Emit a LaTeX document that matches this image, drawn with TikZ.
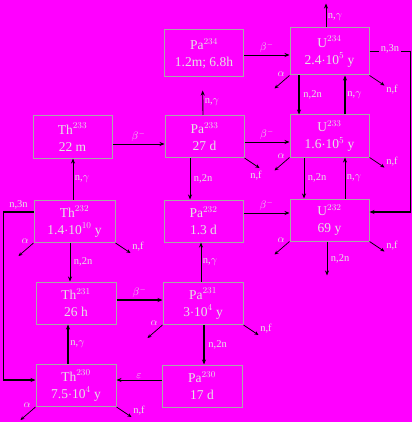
\documentclass[tikz,border=0pt]{standalone}
\usepackage{fontspec}
\setmainfont{Liberation Serif}
\usepackage{xcolor}
\definecolor{Bg}{HTML}{FF00FF}
\definecolor{TextGray}{HTML}{E4E4E4}
\definecolor{BoxGray}{HTML}{A8A8A8}
\usepackage{tikz}
\usetikzlibrary{arrows.meta, positioning}
\tikzset{
  nuc/.style={
    rectangle, draw=BoxGray, line width=1pt,
    minimum width=79pt, minimum height=42pt,
    inner sep=0pt, align=center, text=TextGray,
    font=\fontsize{13.5}{17}\selectfont
  },
  arr/.style={-{Stealth[length=5pt, width=4pt]}, line width=0.9pt, color=black},
  tArr/.style={arr, line width=1.8pt},
  sArr/.style={-{Stealth[length=4pt, width=3.5pt]}, line width=0.7pt, color=black},
  lab/.style={text=TextGray, font=\fontsize{10.5}{11}\selectfont, inner sep=1.5pt},
}

\begin{document}
\begin{tikzpicture}[x=1pt, y=-1pt]

% background and size
\fill[Bg] (0,0) rectangle (412,422);
\useasboundingbox (0,0) rectangle (412,422);

% Nuclides, row by row
\node[nuc, minimum height=47pt] at (204,53.5) (pa234) {Pa$^{234}$\\1.2m; 6.8h};
\node[nuc, minimum height=47pt] at (329.5,51.5) (u234) {U$^{234}$\\2.4$\cdot$10$^{5}$ y};

\node[nuc] at (72.5,137) (th233) {Th$^{233}$\\22 m};
\node[nuc] at (204.5,136.5) (pa233) {Pa$^{233}$\\27 d};
\node[nuc] at (329.5,136) (u233) {U$^{233}$\\1.6$\cdot$10$^{5}$ y};

\node[nuc, minimum width=81pt] at (74.5,221.5) (th232) {Th$^{232}$\\1.4$\cdot$10$^{10}$ y};
\node[nuc] at (203.5,221) (pa232) {Pa$^{232}$\\1.3 d};
\node[nuc] at (329.5,220) (u232) {U$^{232}$\\69 y};

\node[nuc, minimum width=80pt] at (76,303) (th231) {Th$^{231}$\\26 h};
\node[nuc, minimum width=80pt] at (203,303.5) (pa231) {Pa$^{231}$\\3$\cdot$10$^{4}$ y};

\node[nuc, minimum width=80pt] at (76,385.5) (th230) {Th$^{230}$\\7.5$\cdot$10$^{4}$ y};
\node[nuc, minimum width=80pt] at (202,386) (pa230) {Pa$^{230}$\\17 d};

% beta decays and electron capture
\draw[arr] ([yshift=-1.5pt]pa234.east) -- ([yshift=-1.5pt]pa234.east -| u234.west)
  node[lab, midway, above] {$\beta^{-}$};
\draw[arr] ([yshift=-7pt]th233.east) -- ([yshift=-7pt]th233.east -| pa233.west)
  node[lab, midway, above] {$\beta^{-}$};
\draw[arr] ([yshift=-5.5pt]pa233.east) -- ([yshift=-5.5pt]pa233.east -| u233.west)
  node[lab, midway, above] {$\beta^{-}$};
\draw[arr] ([yshift=8pt]pa232.east) -- ([yshift=8pt]pa232.east -| u232.west)
  node[lab, midway, above] {$\beta^{-}$};
\draw[tArr] ([yshift=3pt]th231.east) -- ([yshift=3pt]th231.east -| pa231.west)
  node[lab, midway, above] {$\beta^{-}$};
\draw[arr] ([yshift=6pt]pa230.west) -- ([yshift=6pt]pa230.west -| th230.east)
  node[lab, midway, above] {$\varepsilon$};

% (n,gamma) captures
\draw[arr] ([xshift=-3.5pt]u234.north) -- ++(0,-24)
  node[lab, pos=0.45, right] {n,$\gamma$};
\draw[arr, shorten >=13pt] ([xshift=-1.5pt]pa233.north) -- ([xshift=-1.5pt]pa234.south)
  node[lab, pos=0.35, right] {n,$\gamma$};
\draw[arr] ([xshift=-1.5pt]th232.north) coordinate (s) -- (s |- th233.south)
  node[lab, midway, right] {n,$\gamma$};
\draw[tArr] ([xshift=15.5pt]u233.north) -- ([xshift=15.5pt]u234.south)
  node[lab, midway, right] {n,$\gamma$};
\draw[arr] ([xshift=15.5pt]u232.north) -- ([xshift=15.5pt]u233.south)
  node[lab, midway, right] {n,$\gamma$};
\draw[arr] ([xshift=-2pt]pa231.north) coordinate (s) -- (s |- pa232.south)
  node[lab, midway, right] {n,$\gamma$};
\draw[tArr] ([xshift=-8pt]th230.north) coordinate (s) -- (s |- th231.south)
  node[lab, midway, right] {n,$\gamma$};

% (n,2n) reactions
\draw[tArr] ([xshift=-30.5pt]u234.south) -- ([xshift=-30.5pt]u233.north)
  node[lab, midway, right=2pt] {n,2n};
\draw[arr] ([xshift=-25.5pt]u233.south) -- ([xshift=-25.5pt]u232.north)
  node[lab, midway, right=2pt] {n,2n};
\draw[arr] ([xshift=-14.5pt]pa233.south) coordinate (s) -- (s |- pa232.north)
  node[lab, midway, right=2pt] {n,2n};
\draw[arr] ([xshift=-4.5pt]th232.south) coordinate (s) -- (s |- th231.north)
  node[lab, midway, right=2pt] {n,2n};
\draw[tArr] ([xshift=1pt]pa231.south) coordinate (s) -- (s |- pa230.north)
  node[lab, midway, right=2pt] {n,2n};
\draw[arr] ([xshift=-2.5pt]u232.south) -- ++(0,34)
  node[lab, midway, right=2pt] {n,2n};

% (n,3n) reactions
\draw[tArr] (u234.east) -- node[lab, fill=Bg, yshift=3pt] {n,3n} ++(41,0)
  |- ([yshift=8pt]u232.east);
\draw[tArr] ([yshift=9.5pt]th232.west) -- node[lab, above] {n,3n} ++(-30,0)
  |- ([yshift=5.5pt]th230.west);

% alpha decay and fission
\foreach \n in {u234, u233, u232, th232, pa231, th230} {
  \draw[sArr] (\n.south west) -- ++(-15,13)
    node[lab, pos=0.2, above left] {$\alpha$};
}
\foreach \n in {u233, u232, th232, pa231, th230} {
  \draw[sArr] (\n.south east) -- ++(15,10)
    node[lab, pos=1, above right] {n,f};
}
\draw[sArr] (u234.south east) -- ++(15,10)
  node[lab, pos=1, below right=-2pt and 0pt] {n,f};
\draw[sArr] (pa233.south east) -- ++(15,10)
  node[lab, pos=1, below left=1pt and -4pt] {n,f};

\end{tikzpicture}
\end{document}
